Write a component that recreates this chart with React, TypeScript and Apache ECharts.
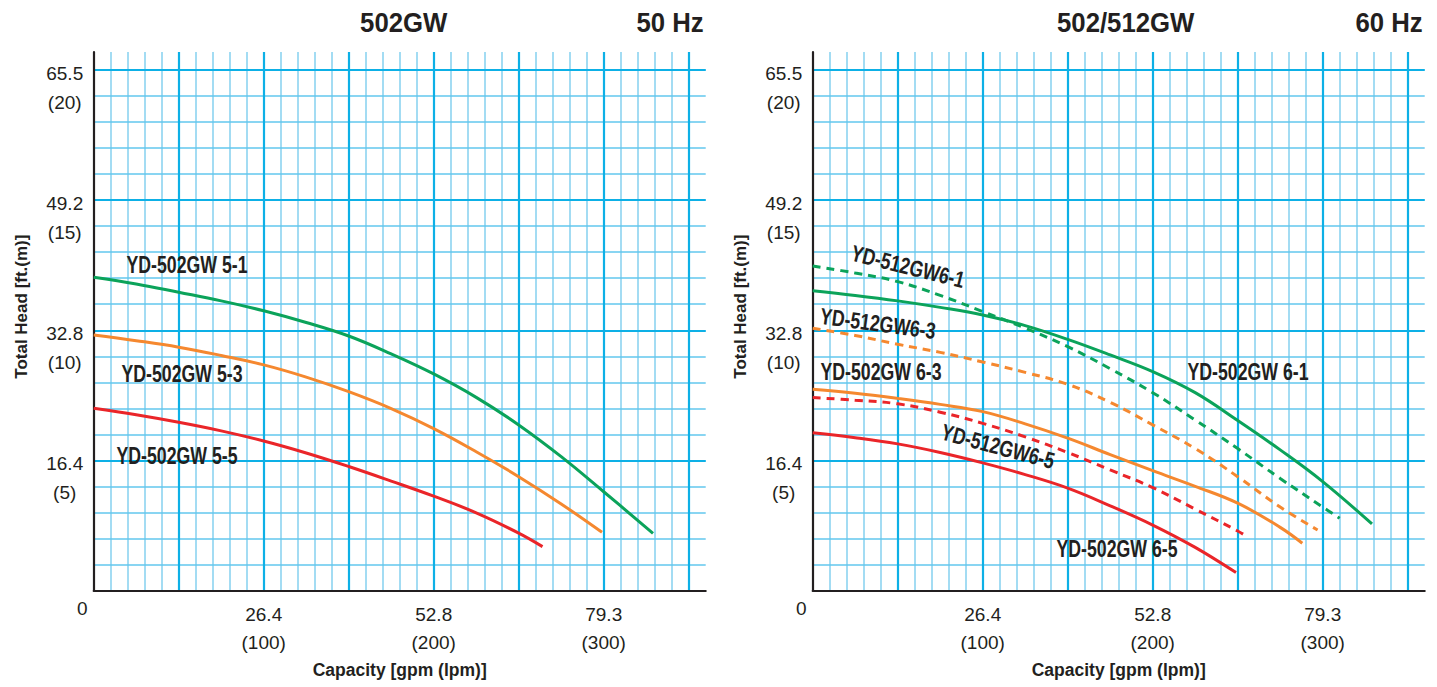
import React, { useEffect, useRef } from "react";
import * as echarts from "echarts";

const FONT = "'Liberation Sans', Arial, Helvetica, sans-serif";

// ---- tick labels ----
const xTickValues = [100, 200, 300];
const xTickGpm = ["26.4", "52.8", "79.3"];
const xTickLpm = ["(100)", "(200)", "(300)"];
const yTickValues = [5, 10, 15, 20];
const yTickFt = ["16.4", "32.8", "49.2", "65.5"];
const yTickM = ["(5)", "(10)", "(15)", "(20)"];

// ---- axis ranges (lpm, m) ----
const X_MAX = 360;
const Y_MAX = 20.7;

// ---- titles ----
const panelModels = ["502GW", "502/512GW"];
const panelHz = ["50 Hz", "60 Hz"];

// ---- 50 Hz curves: [capacity lpm, head m] ----
const c502_5_1 = [[0, 12.04], [25, 11.78], [50, 11.46], [75, 11.13], [100, 10.75], [125, 10.3], [150, 9.78], [175, 9.09], [200, 8.32], [225, 7.42], [250, 6.36], [275, 5.14], [300, 3.79], [329, 2.19]];
const c502_5_3 = [[0, 9.82], [25, 9.6], [50, 9.35], [75, 9.03], [100, 8.67], [125, 8.2], [150, 7.64], [175, 6.99], [200, 6.22], [225, 5.33], [250, 4.37], [275, 3.32], [299, 2.23]];
const c502_5_5 = [[0, 7.0], [25, 6.75], [50, 6.46], [75, 6.13], [100, 5.74], [125, 5.28], [150, 4.76], [175, 4.2], [200, 3.62], [225, 2.98], [250, 2.2], [264, 1.68]];

// ---- 60 Hz curves ----
const c502_6_1 = [[0, 11.52], [25, 11.34], [50, 11.13], [75, 10.88], [100, 10.59], [125, 10.18], [150, 9.65], [175, 9.05], [200, 8.41], [225, 7.6], [250, 6.53], [275, 5.4], [300, 4.18], [329, 2.55]];
const c512_6_1 = [[0, 12.47], [25, 12.2], [50, 11.87], [75, 11.34], [100, 10.72], [125, 10.08], [150, 9.37], [175, 8.52], [200, 7.6], [225, 6.55], [250, 5.45], [275, 4.3], [300, 3.2], [310, 2.77]];
const c512_6_3 = [[0, 10.08], [25, 9.8], [50, 9.46], [75, 9.15], [100, 8.78], [125, 8.38], [150, 7.92], [175, 7.23], [200, 6.36], [225, 5.45], [250, 4.37], [275, 3.2], [297, 2.32]];
const c502_6_3 = [[0, 7.73], [25, 7.58], [50, 7.38], [75, 7.15], [100, 6.87], [125, 6.4], [150, 5.85], [175, 5.22], [200, 4.6], [225, 4.0], [250, 3.35], [275, 2.42], [288, 1.81]];
const c512_6_5 = [[0, 7.41], [25, 7.31], [50, 7.17], [75, 6.85], [100, 6.42], [125, 5.9], [150, 5.3], [175, 4.63], [200, 3.95], [225, 3.12], [250, 2.28], [256, 2.04]];
const c502_6_5 = [[0, 6.06], [25, 5.87], [50, 5.63], [75, 5.3], [100, 4.9], [125, 4.45], [150, 3.93], [175, 3.25], [200, 2.51], [225, 1.65], [249, 0.68]];

const GREEN = "#0BA35A";
const ORANGE = "#F5882F";
const RED = "#EA2529";
const INK = "#231F20";

const seriesDefs = [
  { name: "YD-502GW 5-1", data: c502_5_1, color: GREEN, dashed: false, panel: 0 },
  { name: "YD-502GW 5-3", data: c502_5_3, color: ORANGE, dashed: false, panel: 0 },
  { name: "YD-502GW 5-5", data: c502_5_5, color: RED, dashed: false, panel: 0 },
  { name: "YD-502GW 6-1", data: c502_6_1, color: GREEN, dashed: false, panel: 1 },
  { name: "YD-512GW6-1", data: c512_6_1, color: GREEN, dashed: true, panel: 1 },
  { name: "YD-512GW6-3", data: c512_6_3, color: ORANGE, dashed: true, panel: 1 },
  { name: "YD-502GW 6-3", data: c502_6_3, color: ORANGE, dashed: false, panel: 1 },
  { name: "YD-512GW6-5", data: c512_6_5, color: RED, dashed: true, panel: 1 },
  { name: "YD-502GW 6-5", data: c502_6_5, color: RED, dashed: false, panel: 1 },
];

// curve label annotations: text, x, y, rotation (deg)
const curveLabels = [
  { text: "YD-502GW 5-1", x: 187, y: 265, rot: 0 },
  { text: "YD-502GW 5-3", x: 182, y: 374, rot: 0 },
  { text: "YD-502GW 5-5", x: 177, y: 456, rot: 0 },
  { text: "YD-512GW6-1", x: 908, y: 266, rot: -14 },
  { text: "YD-512GW6-3", x: 878, y: 323, rot: -7.6 },
  { text: "YD-502GW 6-3", x: 881, y: 372, rot: 0 },
  { text: "YD-512GW6-5", x: 998, y: 446, rot: -15 },
  { text: "YD-502GW 6-1", x: 1248, y: 372, rot: 0 },
  { text: "YD-502GW 6-5", x: 1117, y: 549, rot: 0 },
];

const GRID_LEFT = [93.7, 812.7];
const GRID_TOP = 52;
const GRID_W = 612;
const GRID_H = 538.3;

const MAJOR = "#0DB0E6";
const MINOR_V = "#A3DCF3";
const MINOR_H = "#62C7EE";

function buildOption() {
  const grids: any[] = [];
  const xAxes: any[] = [];
  const yAxes: any[] = [];
  [0, 1].forEach((p) => {
    grids.push({ left: GRID_LEFT[p], top: GRID_TOP, width: GRID_W, height: GRID_H, containLabel: false });
    xAxes.push({
      type: "value", gridIndex: p, position: "bottom", min: 0, max: X_MAX, interval: 50, z: 2,
      axisLine: { show: true, onZero: false, lineStyle: { color: INK, width: 2.2 } },
      axisTick: { show: false },
      splitLine: { show: true, showMinLine: false, showMaxLine: false, lineStyle: { color: MAJOR, width: 2.2 } },
      axisLabel: {
        show: true, margin: 10, color: INK, fontFamily: FONT, fontSize: 19,
        formatter: (v: number) => {
          if (v === 0) return "{z|0}";
          const i = xTickValues.indexOf(v);
          return i >= 0 ? `{a|${xTickGpm[i]}}\n{a|${xTickLpm[i]}}` : "";
        },
        rich: {
          a: { fontFamily: FONT, fontSize: 19, lineHeight: 28, color: INK, align: "center" },
          z: { fontFamily: FONT, fontSize: 19, lineHeight: 17, color: INK, padding: [0, 23, 0, 0] },
        },
      },
      name: "Capacity [gpm (lpm)]", nameLocation: "middle", nameGap: 71,
      nameTextStyle: { fontFamily: FONT, fontSize: 17.5, fontWeight: "bold", color: INK },
    });
    xAxes.push({
      type: "value", gridIndex: p, position: "top", min: 0, max: X_MAX, interval: 10, z: 0,
      axisLine: { show: false }, axisTick: { show: false }, axisLabel: { show: false },
      splitLine: { show: true, showMinLine: false, showMaxLine: false, lineStyle: { color: MINOR_V, width: 2 } },
    });
    yAxes.push({
      type: "value", gridIndex: p, position: "left", min: 0, max: Y_MAX, interval: 5, z: 2,
      axisLine: { show: true, onZero: false, lineStyle: { color: INK, width: 2.2 } },
      axisTick: { show: false },
      splitLine: { show: true, showMinLine: false, showMaxLine: false, lineStyle: { color: MAJOR, width: 2.2 } },
      axisLabel: {
        show: true, margin: 29, align: "center", color: INK, fontFamily: FONT, fontSize: 19,
        formatter: (v: number) => {
          const i = yTickValues.indexOf(v);
          return i >= 0 ? `{e| }\n{a|${yTickFt[i]}}\n{a|${yTickM[i]}}` : "";
        },
        rich: {
          e: { fontSize: 10, lineHeight: 35 },
          a: { fontFamily: FONT, fontSize: 19, lineHeight: 29, color: INK, align: "center" },
        },
      },
      name: "Total Head [ft.(m)]", nameLocation: "middle", nameGap: 64, nameRotate: 90,
      nameTextStyle: { fontFamily: FONT, fontSize: 17, fontWeight: "bold", color: INK, padding: [0, 0, 0, 29] },
    });
    yAxes.push({
      type: "value", gridIndex: p, position: "right", min: 0, max: Y_MAX, interval: 1, z: 1,
      axisLine: { show: false }, axisTick: { show: false }, axisLabel: { show: false },
      splitLine: { show: true, showMinLine: false, showMaxLine: false, lineStyle: { color: MINOR_H, width: 1.6 } },
    });
  });

  const series = seriesDefs.map((s) => ({
    type: "line",
    name: s.name,
    xAxisIndex: s.panel * 2,
    yAxisIndex: s.panel * 2,
    data: s.data,
    smooth: 0.4,
    showSymbol: false,
    symbol: "none",
    z: 5,
    lineStyle: { color: s.color, width: 3, type: s.dashed ? [8, 6] : "solid", cap: "butt" },
  }));

  const graphics: any[] = [];
  [0, 1].forEach((p) => {
    const right = GRID_LEFT[p] + GRID_W - 2;
    const mid = GRID_LEFT[p] + (p === 0 ? 310 : 313);
    graphics.push({
      type: "text", x: mid, y: 23, z: 10, scaleX: 0.92,
      style: { text: panelModels[p], fontFamily: FONT, fontSize: 28, fontWeight: "bold", fill: INK, align: "center", verticalAlign: "middle" },
    });
    graphics.push({
      type: "text", x: right, y: 23, z: 10, scaleX: 0.92,
      style: { text: panelHz[p], fontFamily: FONT, fontSize: 28, fontWeight: "bold", fill: INK, align: "right", verticalAlign: "middle" },
    });
  });
  curveLabels.forEach((l) => {
    graphics.push({
      type: "text", x: l.x, y: l.y, rotation: (l.rot * Math.PI) / 180, z: 10, scaleX: 0.77,
      style: { text: l.text, fontFamily: FONT, fontSize: 23, fontWeight: "bold", fill: INK, align: "center", verticalAlign: "middle" },
    });
  });

  return {
    animation: false,
    backgroundColor: "#ffffff",
    grid: grids,
    xAxis: xAxes,
    yAxis: yAxes,
    series,
    graphic: graphics,
  };
}

export default function App() {
  const ref = useRef<HTMLDivElement>(null);
  useEffect(() => {
    if (!ref.current) return;
    const chart = echarts.init(ref.current, undefined, { renderer: "svg" });
    chart.setOption(buildOption() as any);
    return () => chart.dispose();
  }, []);
  return <div ref={ref} style={{ position: "absolute", left: 0, top: 0, width: 1437, height: 687 }} />;
}
